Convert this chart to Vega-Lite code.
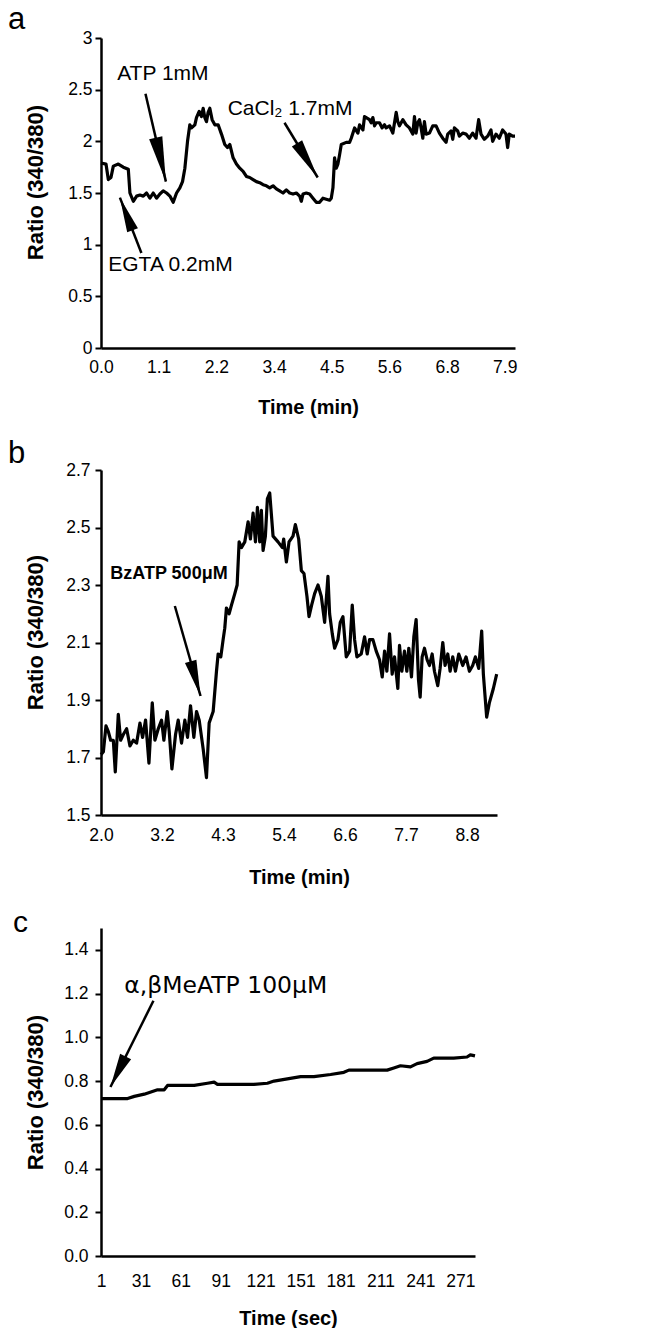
{
"$schema": "https://vega.github.io/schema/vega-lite/v6.json",
"padding": {"left": 8, "top": 4, "right": 5, "bottom": 0},
"background": "white",
"config": {
  "view": {"stroke": null},
  "font": "Liberation Sans",
  "axis": {"domainColor": "black", "domainWidth": 2.5, "tickColor": "black", "tickWidth": 2, "tickSize": 6, "labelColor": "black", "labelFont": "Liberation Sans", "labelFontSize": 17.5, "titleFont": "Liberation Sans", "titleFontSize": 20, "titleFontWeight": "bold", "titleColor": "black", "grid": false, "titleBaseline": "alphabetic", "labelOverlap": false, "labelFlush": false},
  "axisX": {"ticks": false, "tickSize": 0},
  "axisY": {"titleFontSize": 22}
},
"datasets": {
"a": [{"t":0,"v":1.79},{"t":0.098,"v":1.78},{"t":0.143,"v":1.63},{"t":0.195,"v":1.65},{"t":0.241,"v":1.76},{"t":0.339,"v":1.78},{"t":0.436,"v":1.75},{"t":0.534,"v":1.73},{"t":0.566,"v":1.5},{"t":0.632,"v":1.42},{"t":0.697,"v":1.47},{"t":0.762,"v":1.48},{"t":0.827,"v":1.47},{"t":0.892,"v":1.5},{"t":0.957,"v":1.45},{"t":1.022,"v":1.5},{"t":1.087,"v":1.45},{"t":1.152,"v":1.49},{"t":1.217,"v":1.52},{"t":1.283,"v":1.5},{"t":1.348,"v":1.47},{"t":1.413,"v":1.41},{"t":1.478,"v":1.5},{"t":1.543,"v":1.55},{"t":1.595,"v":1.61},{"t":1.641,"v":1.74},{"t":1.693,"v":2.0},{"t":1.738,"v":2.16},{"t":1.771,"v":2.13},{"t":1.836,"v":2.16},{"t":1.868,"v":2.23},{"t":1.921,"v":2.29},{"t":1.966,"v":2.24},{"t":1.999,"v":2.32},{"t":2.031,"v":2.23},{"t":2.064,"v":2.19},{"t":2.096,"v":2.28},{"t":2.129,"v":2.32},{"t":2.174,"v":2.21},{"t":2.227,"v":2.16},{"t":2.292,"v":2.16},{"t":2.357,"v":2.07},{"t":2.422,"v":1.97},{"t":2.474,"v":1.94},{"t":2.52,"v":1.97},{"t":2.585,"v":1.84},{"t":2.65,"v":1.78},{"t":2.715,"v":1.74},{"t":2.78,"v":1.71},{"t":2.845,"v":1.66},{"t":2.91,"v":1.65},{"t":2.975,"v":1.63},{"t":3.04,"v":1.61},{"t":3.105,"v":1.6},{"t":3.171,"v":1.58},{"t":3.236,"v":1.57},{"t":3.301,"v":1.55},{"t":3.366,"v":1.57},{"t":3.431,"v":1.54},{"t":3.496,"v":1.52},{"t":3.561,"v":1.5},{"t":3.626,"v":1.53},{"t":3.691,"v":1.5},{"t":3.757,"v":1.49},{"t":3.822,"v":1.5},{"t":3.887,"v":1.47},{"t":3.919,"v":1.42},{"t":3.952,"v":1.49},{"t":4.017,"v":1.5},{"t":4.082,"v":1.49},{"t":4.147,"v":1.45},{"t":4.212,"v":1.41},{"t":4.277,"v":1.41},{"t":4.342,"v":1.45},{"t":4.408,"v":1.44},{"t":4.473,"v":1.43},{"t":4.505,"v":1.45},{"t":4.538,"v":1.55},{"t":4.57,"v":1.84},{"t":4.603,"v":1.74},{"t":4.635,"v":1.78},{"t":4.668,"v":1.87},{"t":4.701,"v":1.97},{"t":4.798,"v":1.99},{"t":4.863,"v":1.99},{"t":4.896,"v":2.03},{"t":4.961,"v":2.13},{"t":5.026,"v":2.08},{"t":5.059,"v":2.16},{"t":5.124,"v":2.11},{"t":5.156,"v":2.24},{"t":5.189,"v":2.23},{"t":5.254,"v":2.21},{"t":5.286,"v":2.18},{"t":5.319,"v":2.23},{"t":5.352,"v":2.15},{"t":5.384,"v":2.18},{"t":5.449,"v":2.18},{"t":5.501,"v":2.13},{"t":5.547,"v":2.16},{"t":5.579,"v":2.13},{"t":5.645,"v":2.15},{"t":5.71,"v":2.08},{"t":5.775,"v":2.28},{"t":5.807,"v":2.19},{"t":5.84,"v":2.15},{"t":5.905,"v":2.21},{"t":5.97,"v":2.16},{"t":6.035,"v":2.13},{"t":6.1,"v":2.07},{"t":6.133,"v":2.24},{"t":6.165,"v":2.08},{"t":6.198,"v":2.18},{"t":6.23,"v":2.21},{"t":6.263,"v":2.13},{"t":6.296,"v":2.03},{"t":6.328,"v":2.19},{"t":6.361,"v":2.07},{"t":6.426,"v":2.08},{"t":6.491,"v":2.15},{"t":6.556,"v":2.15},{"t":6.621,"v":2.08},{"t":6.686,"v":2.03},{"t":6.751,"v":1.99},{"t":6.784,"v":2.07},{"t":6.849,"v":2.1},{"t":6.882,"v":2.02},{"t":6.914,"v":2.13},{"t":6.979,"v":2.1},{"t":7.012,"v":2.05},{"t":7.077,"v":2.08},{"t":7.142,"v":2.07},{"t":7.207,"v":2.03},{"t":7.272,"v":2.08},{"t":7.337,"v":2.03},{"t":7.389,"v":2.21},{"t":7.435,"v":2.07},{"t":7.5,"v":2.02},{"t":7.565,"v":2.05},{"t":7.63,"v":2.11},{"t":7.663,"v":2.0},{"t":7.728,"v":2.07},{"t":7.793,"v":2.03},{"t":7.858,"v":2.11},{"t":7.923,"v":2.07},{"t":7.956,"v":1.94},{"t":7.988,"v":2.07},{"t":8.053,"v":2.05},{"t":8.1,"v":2.05}],
"b": [{"t":2.0,"v":1.71},{"t":2.044,"v":1.72},{"t":2.093,"v":1.81},{"t":2.137,"v":1.79},{"t":2.18,"v":1.76},{"t":2.23,"v":1.76},{"t":2.267,"v":1.65},{"t":2.323,"v":1.85},{"t":2.367,"v":1.76},{"t":2.417,"v":1.78},{"t":2.479,"v":1.8},{"t":2.541,"v":1.74},{"t":2.603,"v":1.76},{"t":2.665,"v":1.75},{"t":2.728,"v":1.82},{"t":2.777,"v":1.77},{"t":2.833,"v":1.83},{"t":2.896,"v":1.68},{"t":2.958,"v":1.89},{"t":3.007,"v":1.76},{"t":3.07,"v":1.8},{"t":3.132,"v":1.83},{"t":3.175,"v":1.76},{"t":3.238,"v":1.86},{"t":3.275,"v":1.79},{"t":3.325,"v":1.66},{"t":3.393,"v":1.78},{"t":3.443,"v":1.83},{"t":3.505,"v":1.75},{"t":3.567,"v":1.83},{"t":3.617,"v":1.77},{"t":3.673,"v":1.88},{"t":3.735,"v":1.77},{"t":3.785,"v":1.86},{"t":3.835,"v":1.83},{"t":3.909,"v":1.73},{"t":3.971,"v":1.63},{"t":4.021,"v":1.82},{"t":4.096,"v":1.86},{"t":4.158,"v":2.0},{"t":4.189,"v":2.06},{"t":4.239,"v":2.05},{"t":4.282,"v":2.11},{"t":4.313,"v":2.15},{"t":4.344,"v":2.22},{"t":4.394,"v":2.2},{"t":4.438,"v":2.23},{"t":4.5,"v":2.27},{"t":4.544,"v":2.3},{"t":4.581,"v":2.45},{"t":4.624,"v":2.43},{"t":4.687,"v":2.45},{"t":4.749,"v":2.52},{"t":4.792,"v":2.46},{"t":4.842,"v":2.55},{"t":4.886,"v":2.45},{"t":4.923,"v":2.57},{"t":4.966,"v":2.45},{"t":4.997,"v":2.56},{"t":5.029,"v":2.42},{"t":5.072,"v":2.47},{"t":5.109,"v":2.6},{"t":5.153,"v":2.62},{"t":5.215,"v":2.47},{"t":5.308,"v":2.45},{"t":5.389,"v":2.43},{"t":5.414,"v":2.46},{"t":5.464,"v":2.38},{"t":5.514,"v":2.45},{"t":5.588,"v":2.47},{"t":5.632,"v":2.51},{"t":5.694,"v":2.46},{"t":5.744,"v":2.35},{"t":5.793,"v":2.34},{"t":5.849,"v":2.26},{"t":5.887,"v":2.19},{"t":5.936,"v":2.23},{"t":5.992,"v":2.27},{"t":6.055,"v":2.3},{"t":6.117,"v":2.26},{"t":6.179,"v":2.17},{"t":6.241,"v":2.33},{"t":6.272,"v":2.2},{"t":6.322,"v":2.13},{"t":6.366,"v":2.08},{"t":6.428,"v":2.11},{"t":6.471,"v":2.17},{"t":6.521,"v":2.19},{"t":6.583,"v":2.05},{"t":6.646,"v":2.07},{"t":6.695,"v":2.23},{"t":6.739,"v":2.11},{"t":6.782,"v":2.05},{"t":6.863,"v":2.06},{"t":6.925,"v":2.12},{"t":6.975,"v":2.06},{"t":7.019,"v":2.11},{"t":7.081,"v":2.11},{"t":7.143,"v":2.07},{"t":7.205,"v":2.04},{"t":7.255,"v":1.98},{"t":7.299,"v":2.07},{"t":7.342,"v":2.0},{"t":7.392,"v":2.13},{"t":7.441,"v":1.99},{"t":7.485,"v":2.05},{"t":7.547,"v":1.94},{"t":7.578,"v":2.09},{"t":7.622,"v":2.0},{"t":7.671,"v":2.07},{"t":7.715,"v":2.0},{"t":7.752,"v":2.08},{"t":7.802,"v":1.98},{"t":7.846,"v":2.12},{"t":7.889,"v":2.18},{"t":7.933,"v":1.97},{"t":7.964,"v":1.91},{"t":8.001,"v":2.05},{"t":8.045,"v":2.08},{"t":8.094,"v":2.04},{"t":8.138,"v":2.02},{"t":8.188,"v":2.06},{"t":8.231,"v":2.0},{"t":8.293,"v":1.95},{"t":8.337,"v":2.01},{"t":8.387,"v":2.1},{"t":8.43,"v":2.02},{"t":8.48,"v":2.06},{"t":8.524,"v":2.0},{"t":8.573,"v":2.05},{"t":8.623,"v":2.0},{"t":8.685,"v":2.06},{"t":8.76,"v":2.02},{"t":8.822,"v":2.05},{"t":8.884,"v":2.0},{"t":8.946,"v":2.02},{"t":8.996,"v":2.05},{"t":9.058,"v":2.01},{"t":9.114,"v":2.14},{"t":9.145,"v":1.99},{"t":9.207,"v":1.84},{"t":9.257,"v":1.89},{"t":9.332,"v":1.94},{"t":9.394,"v":1.99}],
"c": [{"t":1,"v":0.72},{"t":21,"v":0.72},{"t":26,"v":0.73},{"t":33.5,"v":0.74},{"t":38.5,"v":0.75},{"t":43.5,"v":0.76},{"t":48.5,"v":0.76},{"t":51,"v":0.78},{"t":61,"v":0.78},{"t":71,"v":0.78},{"t":81,"v":0.79},{"t":86,"v":0.795},{"t":88.5,"v":0.785},{"t":101,"v":0.785},{"t":116,"v":0.785},{"t":126,"v":0.79},{"t":131,"v":0.8},{"t":141,"v":0.81},{"t":151,"v":0.82},{"t":161,"v":0.82},{"t":173.5,"v":0.83},{"t":183.5,"v":0.84},{"t":187.25,"v":0.85},{"t":201,"v":0.85},{"t":216,"v":0.85},{"t":221,"v":0.86},{"t":226,"v":0.87},{"t":233.5,"v":0.865},{"t":238.5,"v":0.88},{"t":246,"v":0.89},{"t":251,"v":0.905},{"t":266,"v":0.905},{"t":276,"v":0.91},{"t":278.5,"v":0.92},{"t":282,"v":0.915}]
},
"spacing": 122,
"bounds": "flush",
"vconcat": [
{
  "width": 414, "height": 310,
  "title": {"text": "a", "anchor": "start", "frame": "group", "dx": -93, "offset": -31, "baseline": "alphabetic", "fontSize": 31, "fontWeight": "normal", "font": "Liberation Sans", "color": "black"},
  "encoding": {
    "x": {"field": "t", "type": "quantitative", "scale": {"domain": [0, 8.1], "nice": false, "zero": false},
      "axis": {"values": [0, 1.12857, 2.25714, 3.38571, 4.51429, 5.64286, 6.77143, 7.9], "labelExpr": "['0.0','1.1','2.2','3.4','4.5','5.6','6.8','7.9'][round(datum.value/1.12857)]", "title": "Time (min)", "labelPadding": 10.5, "titleY": 65}},
    "y": {"field": "v", "type": "quantitative", "scale": {"domain": [0, 3], "nice": false, "zero": false},
      "axis": {"values": [0, 0.5, 1, 1.5, 2, 2.5, 3], "format": "~g", "title": "Ratio (340/380)", "titleX": -59, "titleY": 144, "labelPadding": 3}}
  },
  "layer": [
    {"data": {"name": "a"}, "mark": {"type": "line", "color": "black", "strokeWidth": 3.2, "strokeJoin": "round"}, "encoding": {}},
    {"data": {"values": [{"t": 0.87, "v": 2.46, "t2": 1.27, "v2": 1.61}, {"t": 3.59, "v": 2.18, "t2": 4.24, "v2": 1.65}, {"t": 0.79, "v": 0.92, "t2": 0.37, "v2": 1.455}]}, "mark": {"type": "rule", "color": "black", "strokeWidth": 2.5}, "encoding": {"x2": {"field": "t2"}, "y2": {"field": "v2"}}},
    {"data": {"values": [{"t": 1.27, "v": 1.61}]}, "mark": {"type": "point", "shape": "M0,0L-0.3,2L0.3,2Z", "size": 2025, "angle": 166.9, "filled": true, "color": "black", "opacity": 1}, "encoding": {}},
    {"data": {"values": [{"t": 4.24, "v": 1.65}]}, "mark": {"type": "point", "shape": "M0,0L-0.3,2L0.3,2Z", "size": 1600, "angle": 148.8, "filled": true, "color": "black", "opacity": 1}, "encoding": {}},
    {"data": {"values": [{"t": 0.37, "v": 1.455}]}, "mark": {"type": "point", "shape": "M0,0L-0.33,2L0.33,2Z", "size": 1225, "angle": -21.2, "filled": true, "color": "black", "opacity": 1}, "encoding": {}},
    {"data": {"values": [{"t": 1.21, "v": 2.65, "label": "ATP 1mM"}, {"t": 3.7, "v": 2.31, "label": "CaCl₂ 1.7mM"}, {"t": 1.36, "v": 0.8, "label": "EGTA 0.2mM"}]}, "mark": {"type": "text", "font": "Liberation Sans", "fontSize": 21, "color": "black", "align": "center", "baseline": "middle"}, "encoding": {"text": {"field": "label"}}}
  ]
},
{
  "spacing": 113,
  "bounds": "flush",
  "vconcat": [
  {
    "width": 396, "height": 345,
    "title": {"text": "b", "anchor": "start", "frame": "group", "dx": -93, "offset": -33, "baseline": "alphabetic", "fontSize": 31, "fontWeight": "normal", "font": "Liberation Sans", "color": "black"},
    "encoding": {
      "x": {"field": "t", "type": "quantitative", "scale": {"domain": [2, 9.4], "nice": false, "zero": false},
        "axis": {"values": [2, 3.14, 4.28, 5.42, 6.56, 7.7, 8.84], "labelExpr": "['2.0','3.2','4.3','5.4','6.6','7.7','8.8'][round((datum.value-2)/1.14)]", "title": "Time (min)", "labelPadding": 11.5, "titleY": 68}},
      "y": {"field": "v", "type": "quantitative", "scale": {"domain": [1.5, 2.7], "nice": false, "zero": false},
        "axis": {"values": [1.5, 1.7, 1.9, 2.1, 2.3, 2.5, 2.7], "format": ".1f", "title": "Ratio (340/380)", "titleX": -59, "titleY": 162, "labelPadding": 5}}
    },
    "layer": [
      {"data": {"name": "b"}, "mark": {"type": "line", "color": "black", "strokeWidth": 3.2, "strokeJoin": "round"}, "encoding": {}},
      {"data": {"values": [{"t": 3.38, "v": 2.227, "t2": 3.86, "v2": 1.914}]}, "mark": {"type": "rule", "color": "black", "strokeWidth": 2.5}, "encoding": {"x2": {"field": "t2"}, "y2": {"field": "v2"}}},
      {"data": {"values": [{"t": 3.86, "v": 1.914}]}, "mark": {"type": "point", "shape": "M0,0L-0.33,2L0.33,2Z", "size": 1296, "angle": 164.1, "filled": true, "color": "black", "opacity": 1}, "encoding": {}},
      {"data": {"values": [{"t": 3.27, "v": 2.337, "label": "BzATP 500μM"}]}, "mark": {"type": "text", "font": "Liberation Sans", "fontSize": 18, "fontWeight": "bold", "color": "black", "align": "center", "baseline": "middle"}, "encoding": {"text": {"field": "label"}}}
    ]
  },
  {
    "width": 374, "height": 328,
    "title": {"text": "c", "anchor": "start", "frame": "group", "dx": -88, "offset": -34, "baseline": "alphabetic", "fontSize": 30, "fontWeight": "normal", "font": "Liberation Sans", "color": "black"},
    "encoding": {
      "x": {"field": "t", "type": "quantitative", "scale": {"domain": [1, 282], "nice": false, "zero": false},
        "axis": {"values": [1, 31, 61, 91, 121, 151, 181, 211, 241, 271], "format": "d", "title": "Time (sec)", "labelPadding": 16.5, "titleY": 68}},
      "y": {"field": "v", "type": "quantitative", "scale": {"domain": [0, 1.5], "nice": false, "zero": false},
        "axis": {"values": [0, 0.2, 0.4, 0.6, 0.8, 1.0, 1.2, 1.4], "format": ".1f", "title": "Ratio (340/380)", "titleX": -59, "titleY": 164, "labelPadding": 7}}
    },
    "layer": [
      {"data": {"name": "c"}, "mark": {"type": "line", "color": "black", "strokeWidth": 3.2, "strokeJoin": "round"}, "encoding": {}},
      {"data": {"values": [{"t": 40.4, "v": 1.167, "t2": 8.1, "v2": 0.773}]}, "mark": {"type": "rule", "color": "black", "strokeWidth": 2.5}, "encoding": {"x2": {"field": "t2"}, "y2": {"field": "v2"}}},
      {"data": {"values": [{"t": 8.1, "v": 0.773}]}, "mark": {"type": "point", "shape": "M0,0L-0.36,2L0.36,2Z", "size": 1156, "angle": -153.5, "filled": true, "color": "black", "opacity": 1}, "encoding": {}},
      {"data": {"values": [{"t": 94.75, "v": 1.236, "label": "α,βMeATP 100μM"}]}, "mark": {"type": "text", "font": "DejaVu Sans", "fontSize": 23.5, "color": "black", "align": "center", "baseline": "middle"}, "encoding": {"text": {"field": "label"}}}
    ]
  }
  ]
}
]
}
